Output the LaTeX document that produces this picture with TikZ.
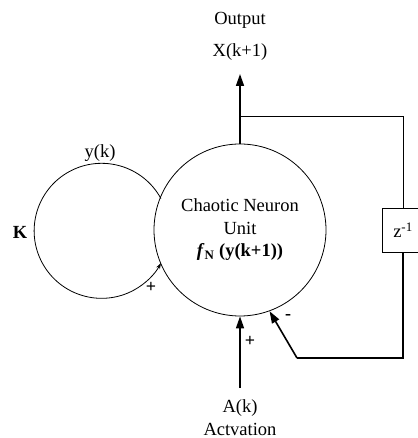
\documentclass[tikz,border=0pt]{standalone}
\usepackage{fontspec}
\setmainfont{Liberation Serif}
\usetikzlibrary{arrows.meta}

\begin{document}
\begin{tikzpicture}[x=1pt,y=1pt,
  font=\fontsize{18.5}{22.5}\selectfont,
  thinline/.style={line width=0.8pt},
  signal/.style={line width=1.6pt,-{Triangle[length=12pt,width=8pt]}},
  sign/.style={font=\fontsize{18}{18}\selectfont\bfseries}]

\useasboundingbox (0,0) rectangle (417,438);

\begin{scope}[thinline]
\node[draw,circle,minimum size=172pt,align=center] (unit) at (240,208)
  {Chaotic Neuron\\Unit\\\textbf{\textit{f}\textsubscript{N} (y(k+1))}};
\node[circle,minimum size=135pt,inner sep=0pt] (loop) at (101,207.5) {};
\draw[-{Stealth[length=6pt,width=4pt]}] (loop.28.5) arc[start angle=28.5,end angle=331.5,radius=67.5];
\node[draw,minimum width=42pt,minimum height=44pt] (delay) at (403,208) {z\textsuperscript{-1}};
\end{scope}

% labels
\node (output) at (240,418) {Output};
\node (xnext) at (240,386) {X(k+1)};
\node (ak) at (240,30) {A(k)};
\node (actv) at (240,9) {Actvation};
\node (yk) at (100,285) {y(k)};
\node (gain) at (20,206) {\textbf{K}};
\node[sign] (plusloop) at (151,151) {+};
\node[sign] (plusact) at (250,97) {+};
\node[sign] (minus) at (288,121) {-};

\coordinate (outtip) at (240,364);
\coordinate (split) at (240,322);
\coordinate (bend) at (297,80);
\coordinate (actin) at (240,50);

\draw[signal] (unit.north) -- (outtip);
\draw[thinline] (split) -| (delay.north);
\draw[line width=1.1pt] (delay.south) |- (bend);
\draw[signal] (bend) -- (unit.-70);
\draw[signal] (actin) -- (unit.south);

\end{tikzpicture}
\end{document}
